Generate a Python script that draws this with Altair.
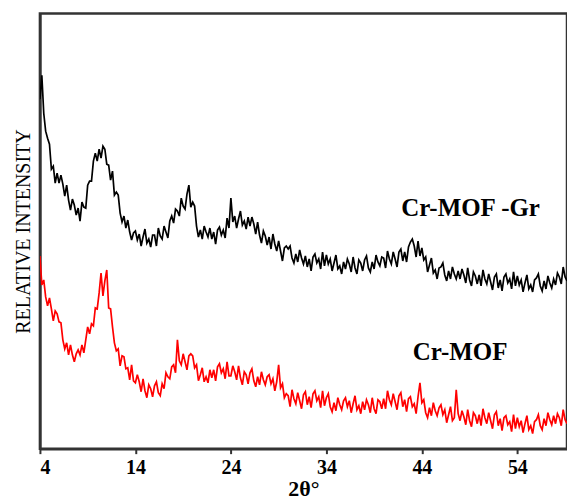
import altair as alt
import pandas as pd

# scan angles (2-theta, degrees), 0.2 degree step from 4.0 to 59.2
two_theta = [round(4.0 + 0.2 * i, 1) for i in range(277)]

# relative intensity (arbitrary units)
cr_mof_gr = [
    350, 374, 336, 318, 311, 305, 280, 283, 266, 276,
    266, 274, 265, 253, 264, 249, 239, 250, 244, 234,
    241, 228, 247, 242, 241, 264, 268, 268, 288, 296,
    288, 300, 291, 303, 300, 285, 284, 269, 278, 254,
    257, 254, 236, 227, 233, 221, 229, 217, 209, 216,
    218, 209, 215, 203, 212, 220, 206, 210, 202, 214,
    214, 203, 221, 213, 210, 223, 217, 211, 228, 233,
    226, 240, 238, 233, 251, 243, 240, 255, 264, 242,
    247, 243, 223, 212, 219, 210, 223, 217, 212, 221,
    210, 217, 205, 219, 222, 214, 219, 211, 231, 221,
    251, 227, 233, 221, 230, 238, 224, 228, 220, 232,
    223, 232, 225, 215, 227, 214, 206, 218, 213, 204,
    212, 200, 215, 205, 198, 208, 198, 188, 201, 203,
    200, 203, 191, 186, 195, 187, 199, 191, 185, 193,
    182, 190, 178, 192, 195, 186, 190, 180, 197, 183,
    194, 185, 190, 178, 186, 194, 180, 183, 175, 187,
    180, 190, 185, 177, 192, 181, 175, 189, 186, 178,
    189, 193, 181, 177, 187, 180, 194, 187, 183, 192,
    191, 181, 198, 190, 185, 197, 190, 182, 197, 200,
    188, 197, 187, 202, 207, 210, 203, 192, 208, 193,
    201, 189, 192, 177, 184, 191, 176, 179, 170, 181,
    182, 186, 174, 168, 178, 170, 182, 175, 170, 178,
    170, 180, 174, 166, 181, 169, 163, 177, 173, 165,
    174, 163, 179, 170, 165, 175, 167, 159, 172, 175,
    161, 169, 158, 172, 175, 166, 170, 160, 177, 163,
    173, 164, 169, 157, 166, 174, 160, 164, 157, 169,
    171, 175, 163, 158, 168, 160, 173, 166, 161, 170,
    164, 176, 172, 165, 182, 172, 168,
]

cr_mof = [
    193, 164, 169, 152, 143, 151, 140, 128, 138, 135,
    127, 126, 109, 100, 106, 94, 104, 94, 87, 95,
    99, 94, 104, 96, 109, 122, 115, 125, 123, 141,
    140, 156, 176, 153, 168, 179, 141, 140, 122, 106,
    98, 100, 83, 93, 92, 80, 81, 69, 84, 68,
    66, 74, 67, 57, 70, 58, 51, 64, 60, 52,
    63, 67, 56, 53, 65, 60, 76, 72, 70, 82,
    84, 76, 109, 88, 84, 95, 87, 79, 93, 95,
    93, 81, 84, 68, 74, 81, 67, 72, 66, 79,
    71, 79, 68, 82, 85, 76, 80, 70, 87, 73,
    73, 83, 77, 69, 83, 71, 64, 77, 74, 65,
    76, 80, 68, 62, 72, 64, 77, 69, 64, 72,
    74, 65, 70, 58, 67, 84, 61, 65, 51, 55,
    53, 42, 59, 50, 45, 56, 48, 40, 54, 57,
    44, 52, 41, 55, 58, 48, 52, 41, 58, 43,
    51, 55, 42, 37, 46, 38, 51, 44, 39, 48,
    51, 42, 48, 36, 45, 53, 39, 43, 35, 47,
    39, 49, 44, 36, 51, 40, 35, 49, 47, 40,
    50, 40, 58, 49, 44, 55, 47, 39, 53, 56,
    42, 49, 37, 50, 52, 42, 45, 35, 52, 66,
    46, 49, 36, 31, 41, 33, 46, 38, 33, 41,
    44, 34, 39, 26, 34, 42, 28, 31, 59, 35,
    28, 38, 32, 24, 39, 28, 22, 36, 33, 25,
    34, 23, 40, 31, 25, 36, 28, 20, 34, 37,
    23, 30, 18, 31, 33, 24, 27, 17, 34, 20,
    31, 22, 28, 16, 25, 33, 19, 23, 15, 27,
    29, 34, 23, 19, 30, 23, 36, 29, 24, 33,
    25, 35, 31, 23, 39, 29, 25,
]

series_names = ["Cr-MOF -Gr", "Cr-MOF"]
series_colors = ["#000000", "#ff0000"]

label_text = ["Cr-MOF -Gr", "Cr-MOF"]
label_x = [49.1, 48.0]
label_y = [241, 97]

x_ticks = [4, 14, 24, 34, 44, 54]

rows = []
for name, vals in zip(series_names, [cr_mof_gr, cr_mof]):
    for t, v in zip(two_theta, vals):
        rows.append({"theta": t, "intensity": v, "series": name})
df = pd.DataFrame(rows)
labels_df = pd.DataFrame({"text": label_text, "x": label_x, "y": label_y})

x_scale = alt.Scale(domain=[4, 59.2], nice=False, zero=False)
y_scale = alt.Scale(domain=[0, 436], nice=False, zero=False)

lines = alt.Chart(df).mark_line(strokeWidth=1.7, clip=True).encode(
    x=alt.X("theta:Q", scale=x_scale,
            axis=alt.Axis(title="2θ°", values=x_ticks, format="d",
                          labelFont="Liberation Serif", labelFontWeight="bold",
                          labelFontSize=20, labelColor="#000",
                          tickSize=5, tickWidth=2, tickColor="#333",
                          labelPadding=4, grid=False,
                          domainColor="#333", domainWidth=2.5,
                          titleFont="Liberation Serif", titleFontWeight="bold",
                          titleFontSize=22, titleColor="#000", titlePadding=1)),
    y=alt.Y("intensity:Q", scale=y_scale,
            axis=alt.Axis(title="RELATIVE INTENSITY", labels=False, ticks=False,
                          grid=False, domainColor="#333", domainWidth=2.5,
                          titleFont="Liberation Serif", titleFontWeight="normal",
                          titleFontSize=20, titleColor="#000", titlePadding=6)),
    color=alt.Color("series:N", scale=alt.Scale(domain=series_names, range=series_colors),
                    legend=None),
    detail="series:N",
)

texts = alt.Chart(labels_df).mark_text(
    font="Liberation Serif", fontWeight="bold", fontSize=25, color="#000",
    align="center", baseline="middle"
).encode(
    x=alt.X("x:Q", scale=x_scale),
    y=alt.Y("y:Q", scale=y_scale),
    text="text:N",
)

chart = alt.layer(lines, texts).properties(
    width=528, height=436,
    background="white",
    autosize=alt.AutoSizeParams(type="none"),
    padding={"left": 40, "top": 13, "right": 0, "bottom": 51},
).configure_view(stroke="#333", strokeWidth=2.5)

chart.save("out.html", embed_options={"renderer": "svg", "actions": False})
